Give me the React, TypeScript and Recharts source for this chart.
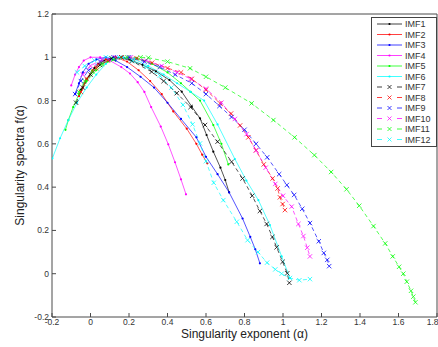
import { ComposedChart, Line, XAxis, YAxis } from "recharts";

// [alpha, f(alpha)] pairs
const imf1: [number, number][] = [
  [-0.05, 0.85], [-0.02, 0.9], [0.02, 0.95], [0.07, 0.985], [0.13, 1.0], [0.2, 0.99],
  [0.27, 0.965], [0.34, 0.935], [0.41, 0.895], [0.474, 0.841], [0.526, 0.772],
  [0.569, 0.718], [0.603, 0.641], [0.638, 0.564], [0.675, 0.49], [0.7, 0.433], [0.72, 0.376],
];
const imf2: [number, number][] = [
  [-0.06, 0.82], [-0.04, 0.86], [-0.02, 0.9], [0.01, 0.94], [0.04, 0.97], [0.08, 0.99],
  [0.13, 1.0], [0.19, 0.98], [0.25, 0.94], [0.31, 0.89], [0.37, 0.83], [0.43, 0.75],
  [0.5, 0.67], [0.55, 0.6], [0.58, 0.55], [0.607, 0.51],
];
const imf3: [number, number][] = [
  [-0.08, 0.83], [-0.06, 0.88], [-0.04, 0.93], [-0.01, 0.97], [0.03, 0.99], [0.08, 1.0],
  [0.13, 0.985], [0.19, 0.955], [0.26, 0.91], [0.33, 0.86], [0.4, 0.79], [0.47, 0.715],
  [0.55, 0.63], [0.6, 0.54], [0.66, 0.46], [0.72, 0.376], [0.79, 0.255], [0.83, 0.17],
  [0.856, 0.113], [0.88, 0.048],
];
const imf4: [number, number][] = [
  [-0.1, 0.87], [-0.08, 0.92], [-0.06, 0.955], [-0.035, 0.985], [0.0, 1.0], [0.05, 1.0],
  [0.1, 0.985], [0.16, 0.955], [0.205, 0.925], [0.245, 0.885], [0.28, 0.84], [0.315, 0.77],
  [0.365, 0.68], [0.404, 0.598], [0.439, 0.515], [0.47, 0.436], [0.496, 0.367],
];
const imf5: [number, number][] = [
  [-0.13, 0.665], [-0.115, 0.71], [-0.09, 0.77], [-0.06, 0.83], [-0.02, 0.89], [0.03, 0.94],
  [0.09, 0.98], [0.16, 1.0], [0.24, 0.995], [0.32, 0.97], [0.4, 0.93], [0.47, 0.88],
  [0.52, 0.84], [0.569, 0.8], [0.638, 0.687], [0.68, 0.6], [0.716, 0.505],
];
const imf6: [number, number][] = [
  [-0.198, 0.533], [-0.158, 0.626], [-0.115, 0.71], [-0.07, 0.79], [-0.02, 0.86],
  [0.03, 0.92], [0.08, 0.97], [0.12, 0.995], [0.17, 1.0], [0.23, 0.99], [0.3, 0.96],
  [0.38, 0.92], [0.45, 0.88], [0.52, 0.84], [0.59, 0.8], [0.66, 0.69], [0.75, 0.53],
  [0.81, 0.43], [0.872, 0.34], [0.932, 0.225], [0.993, 0.08], [1.036, -0.02],
];
const imf7: [number, number][] = [
  [-0.075, 0.79], [-0.04, 0.86], [0.0, 0.92], [0.05, 0.965], [0.11, 0.995], [0.16, 1.0],
  [0.214, 0.983], [0.318, 0.933], [0.38, 0.89], [0.448, 0.834], [0.52, 0.77], [0.595, 0.687],
  [0.66, 0.61], [0.733, 0.517], [0.79, 0.44], [0.84, 0.36], [0.88, 0.29], [0.915, 0.23],
  [0.945, 0.17], [0.967, 0.122], [0.998, 0.055], [1.022, 0.002], [1.033, -0.042],
];
const imf8: [number, number][] = [
  [-0.05, 0.84], [-0.02, 0.9], [0.03, 0.95], [0.09, 0.985], [0.16, 1.0], [0.24, 0.995],
  [0.32, 0.975], [0.4, 0.95], [0.47, 0.93], [0.526, 0.9], [0.6, 0.85], [0.673, 0.787],
  [0.73, 0.74], [0.777, 0.685], [0.82, 0.63], [0.86, 0.57], [0.9, 0.505], [0.946, 0.44],
  [0.972, 0.394], [0.984, 0.353], [0.998, 0.322], [1.01, 0.294],
];
const imf9: [number, number][] = [
  [-0.08, 0.83], [-0.05, 0.89], [-0.01, 0.94], [0.05, 0.98], [0.12, 1.0], [0.2, 1.0],
  [0.28, 0.98], [0.36, 0.955], [0.44, 0.92], [0.526, 0.88], [0.6, 0.83], [0.67, 0.775],
  [0.733, 0.724], [0.8, 0.665], [0.86, 0.6], [0.918, 0.538], [0.98, 0.46], [1.02, 0.41],
  [1.058, 0.364], [1.1, 0.3], [1.14, 0.234], [1.186, 0.15], [1.212, 0.096], [1.23, 0.064],
  [1.24, 0.035],
];
const imf10: [number, number][] = [
  [-0.04, 0.92], [0.0, 0.96], [0.06, 0.99], [0.13, 1.0], [0.21, 1.0], [0.29, 0.985],
  [0.37, 0.96], [0.45, 0.93], [0.52, 0.9], [0.6, 0.855], [0.68, 0.79], [0.75, 0.715],
  [0.811, 0.645], [0.86, 0.57], [0.91, 0.49], [0.96, 0.415], [1.0, 0.36], [1.045, 0.31],
  [1.08, 0.23], [1.106, 0.174], [1.126, 0.12], [1.14, 0.08],
];
const imf11: [number, number][] = [
  [-0.06, 0.84], [-0.03, 0.89], [0.01, 0.935], [0.06, 0.97], [0.12, 0.99], [0.19, 1.0],
  [0.26, 1.0], [0.3, 0.998], [0.4, 0.98], [0.517, 0.949], [0.6, 0.91], [0.7, 0.86],
  [0.837, 0.787], [0.95, 0.71], [1.06, 0.63], [1.163, 0.548], [1.25, 0.47], [1.33, 0.39],
  [1.396, 0.314], [1.47, 0.22], [1.531, 0.14], [1.57, 0.08], [1.603, 0.032], [1.625, 0.0],
  [1.643, -0.037], [1.665, -0.079], [1.677, -0.106], [1.688, -0.132],
];
const imf12: [number, number][] = [
  [-0.07, 0.93], [-0.03, 0.96], [0.02, 0.985], [0.08, 1.0], [0.15, 1.0], [0.22, 0.985],
  [0.29, 0.955], [0.36, 0.915], [0.42, 0.86], [0.48, 0.78], [0.53, 0.69], [0.569, 0.602],
  [0.6, 0.52], [0.64, 0.42], [0.69, 0.34], [0.76, 0.24], [0.816, 0.155], [0.87, 0.1],
  [0.917, 0.051], [0.96, 0.02], [0.993, 0.0], [1.036, -0.02], [1.085, -0.03], [1.14, -0.025],
];

const xTicks = [-0.2, 0, 0.2, 0.4, 0.6, 0.8, 1, 1.2, 1.4, 1.6, 1.8];
const yTicks = [-0.2, 0, 0.2, 0.4, 0.6, 0.8, 1, 1.2];

const series = [
  { name: "IMF1", pts: imf1, color: "#000000", dashed: false },
  { name: "IMF2", pts: imf2, color: "#ff0000", dashed: false },
  { name: "IMF3", pts: imf3, color: "#0000ff", dashed: false },
  { name: "IMF4", pts: imf4, color: "#ff00ff", dashed: false },
  { name: "IMF5", pts: imf5, color: "#00ff00", dashed: false },
  { name: "IMF6", pts: imf6, color: "#00ffff", dashed: false },
  { name: "IMF7", pts: imf7, color: "#000000", dashed: true },
  { name: "IMF8", pts: imf8, color: "#ff0000", dashed: true },
  { name: "IMF9", pts: imf9, color: "#0000ff", dashed: true },
  { name: "IMF10", pts: imf10, color: "#ff00ff", dashed: true },
  { name: "IMF11", pts: imf11, color: "#00ff00", dashed: true },
  { name: "IMF12", pts: imf12, color: "#00ffff", dashed: true },
];

const FONT = "'Liberation Sans', Arial, sans-serif";
const AXIS = "#4a4a4a";
const fmt = (v: number) => String(Math.round(v * 10) / 10);

function makeDot(color: string, cross: boolean) {
  return (p: any) => {
    const { cx, cy, index } = p;
    if (cx == null || cy == null) return <g key={index} />;
    if (!cross) {
      return <circle key={index} cx={cx} cy={cy} r={1.1} fill={color} stroke="none" />;
    }
    const s = 2.2;
    return (
      <g key={index} stroke={color} strokeWidth={0.9} strokeDasharray="none" strokeOpacity={0.85}>
        <line x1={cx - s} y1={cy - s} x2={cx + s} y2={cy + s} />
        <line x1={cx - s} y1={cy + s} x2={cx + s} y2={cy - s} />
      </g>
    );
  };
}

function LegendBox() {
  return (
    <div
      style={{
        position: "absolute",
        left: 371,
        top: 17,
        width: 64,
        height: 128,
        border: "1.5px solid #444",
        background: "#fff",
        fontFamily: FONT,
      }}
    >
      <svg width={64} height={128} style={{ position: "absolute", left: 0, top: 0 }}>
        {series.map((s, i) => {
          const y = 6 + i * 10.5;
          return (
            <g key={s.name}>
              {s.dashed ? (
                <g stroke={s.color} strokeWidth={1} strokeOpacity={0.75}>
                  <line x1={5} y1={y} x2={10} y2={y} />
                  <line x1={25} y1={y} x2={30} y2={y} />
                  <line x1={15.5} y1={y - 2} x2={19.5} y2={y + 2} />
                  <line x1={15.5} y1={y + 2} x2={19.5} y2={y - 2} />
                </g>
              ) : (
                <g>
                  <line x1={5} y1={y} x2={30} y2={y} stroke={s.color} strokeWidth={1} strokeOpacity={0.75} />
                  <circle cx={17.5} cy={y} r={1.1} fill={s.color} />
                </g>
              )}
              <text x={33} y={y + 3.2} fontSize={9} fontFamily={FONT} fill="#333">
                {s.name}
              </text>
            </g>
          );
        })}
      </svg>
    </div>
  );
}

export default function App() {
  return (
    <div style={{ position: "absolute", left: 0, top: 0, width: 438, height: 347, background: "#fff" }}>
      <ComposedChart
        width={438}
        height={347}
        margin={{ top: 13, right: 0, bottom: 0, left: 0 }}
        style={{ fontFamily: FONT }}
      >
        <XAxis
          xAxisId="b"
          type="number"
          dataKey="x"
          domain={[-0.2, 1.8]}
          ticks={xTicks}
          tickFormatter={fmt}
          height={30}
          allowDataOverflow
          stroke={AXIS}
          tickSize={-4}
          tickMargin={6}
          tick={{ fill: "#333", fontSize: 8.5 }}
          label={{
            value: "Singularity exponent (α)",
            position: "insideBottom",
            offset: 9,
            style: { fontSize: 12, fill: "#222", fontFamily: FONT },
          }}
        />
        <XAxis
          xAxisId="t"
          orientation="top"
          type="number"
          domain={[-0.2, 1.8]}
          ticks={xTicks}
          tickFormatter={() => ""}
          height={1}
          stroke={AXIS}
          tickSize={-4}
        />
        <YAxis
          yAxisId="l"
          type="number"
          domain={[-0.2, 1.2]}
          ticks={yTicks}
          tickFormatter={fmt}
          width={52}
          allowDataOverflow
          stroke={AXIS}
          tickSize={-4}
          tickMargin={7}
          tick={{ fill: "#333", fontSize: 8.5 }}
          label={{
            value: "Singularity spectra f(α)",
            angle: -90,
            position: "insideLeft",
            offset: 20,
            style: { fontSize: 12, fill: "#222", textAnchor: "middle", fontFamily: FONT },
          }}
        />
        <YAxis
          yAxisId="r"
          orientation="right"
          type="number"
          domain={[-0.2, 1.2]}
          ticks={yTicks}
          tickFormatter={() => ""}
          width={1}
          stroke={AXIS}
          tickSize={-4}
        />
        {series.map((s) => (
          <Line
            key={s.name}
            xAxisId="b"
            yAxisId="l"
            data={s.pts.map(([x, y]) => ({ x, y }))}
            dataKey="y"
            name={s.name}
            type="linear"
            stroke={s.color}
            strokeOpacity={0.75}
            strokeWidth={0.9}
            strokeDasharray={s.dashed ? "4 3" : undefined}
            dot={makeDot(s.color, s.dashed)}
            activeDot={false}
            isAnimationActive={false}
          />
        ))}
      </ComposedChart>
      <LegendBox />
    </div>
  );
}
